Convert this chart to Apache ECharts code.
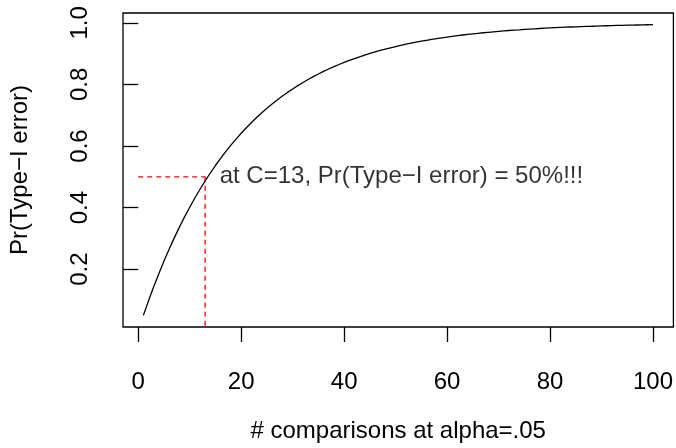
<!DOCTYPE html>
<html>
<head>
<meta charset="utf-8">
<script src="https://cdn.jsdelivr.net/npm/echarts@6/dist/echarts.min.js"></script>
<style>
html,body{margin:0;padding:0;background:#fff;}
#chart{width:676px;height:448px;}
</style>
</head>
<body>
<div id="chart"></div>
<script>
// Number of comparisons C
var comparisons = [1,2,3,4,5,6,7,8,9,10,11,12,13,14,15,16,17,18,19,20,
  21,22,23,24,25,26,27,28,29,30,31,32,33,34,35,36,37,38,39,40,
  41,42,43,44,45,46,47,48,49,50,51,52,53,54,55,56,57,58,59,60,
  61,62,63,64,65,66,67,68,69,70,71,72,73,74,75,76,77,78,79,80,
  81,82,83,84,85,86,87,88,89,90,91,92,93,94,95,96,97,98,99,100];
// Pr(Type-I error)
var typeIError = [0.0500,0.0975,0.1426,0.1855,0.2262,0.2649,0.3017,0.3366,0.3698,0.4013,
  0.4312,0.4596,0.4867,0.5123,0.5367,0.5599,0.5819,0.6028,0.6226,0.6415,
  0.6594,0.6765,0.6926,0.7080,0.7226,0.7365,0.7497,0.7622,0.7741,0.7854,
  0.7961,0.8063,0.8160,0.8252,0.8339,0.8422,0.8501,0.8576,0.8647,0.8715,
  0.8779,0.8840,0.8898,0.8953,0.9006,0.9055,0.9103,0.9147,0.9190,0.9231,
  0.9269,0.9306,0.9340,0.9373,0.9405,0.9434,0.9463,0.9490,0.9515,0.9539,
  0.9562,0.9584,0.9605,0.9625,0.9644,0.9661,0.9678,0.9694,0.9710,0.9724,
  0.9738,0.9751,0.9764,0.9775,0.9787,0.9797,0.9807,0.9817,0.9826,0.9835,
  0.9843,0.9851,0.9858,0.9865,0.9872,0.9879,0.9885,0.9890,0.9896,0.9901,
  0.9906,0.9911,0.9915,0.9919,0.9923,0.9927,0.9931,0.9934,0.9938,0.9941];
var xTicks = [0,20,40,60,80,100];
var yTicks = [0.2,0.4,0.6,0.8,1.0];
var refC = 13;
var refP = 0.5;
var annotation = 'at C=13, Pr(Type\u2212I error) = 50%!!!';
var xTitle = '# comparisons at alpha=.05';
var yTitle = 'Pr(Type\u2212I error)';

var curve = comparisons.map(function(c,i){return [c, typeIError[i]];});
var FONT = 'Liberation Sans, Arial, Helvetica, sans-serif';

var chart = echarts.init(document.getElementById('chart'), null, {renderer:'canvas'});
chart.setOption({
  animation:false,
  backgroundColor:'#ffffff',
  grid:{left:122,right:1,top:13,bottom:118,show:true,borderColor:'#000',borderWidth:1.3,backgroundColor:'transparent'},
  xAxis:{
    type:'value', min:-2.96, max:103.96,
    name:xTitle, nameLocation:'middle', nameGap:92,
    nameTextStyle:{fontFamily:FONT,fontSize:24,color:'#000'},
    axisLine:{show:false},
    splitLine:{show:false},
    axisTick:{show:true,inside:false,length:15,customValues:xTicks,lineStyle:{color:'#000',width:1.3}},
    axisLabel:{show:true,customValues:xTicks,margin:43,fontFamily:FONT,fontSize:24,color:'#000'}
  },
  yAxis:{
    type:'value', min:0.0122, max:1.0320,
    name:yTitle, nameLocation:'middle', nameGap:91, nameRotate:90,
    nameTextStyle:{fontFamily:FONT,fontSize:24,color:'#000'},
    axisLine:{show:false},
    splitLine:{show:false},
    axisTick:{show:true,inside:false,length:15,customValues:yTicks,lineStyle:{color:'#000',width:1.3}},
    axisLabel:{show:true,customValues:yTicks,rotate:90,margin:31,fontFamily:FONT,fontSize:24,color:'#000',
      formatter:function(v){return v.toFixed(1);}}
  },
  series:[
    {type:'line',data:curve,showSymbol:false,symbol:'none',lineStyle:{color:'#000',width:1.3},z:3},
    {type:'line',data:[[0,refP],[refC,refP]],showSymbol:false,symbol:'none',
      lineStyle:{color:'#ff0000',width:1.3,type:[5,4]},z:2},
    {type:'line',data:[[refC,refP],[refC,0]],showSymbol:false,symbol:'none',clip:true,
      lineStyle:{color:'#ff0000',width:1.3,type:[5,4]},z:2},
    {type:'scatter',data:[[refC,refP]],symbolSize:1,itemStyle:{color:'rgba(0,0,0,0)'},
      label:{show:true,position:'right',distance:14,formatter:annotation,fontFamily:FONT,fontSize:24,color:'#000'},z:4}
  ]
});
</script>
</body>
</html>
